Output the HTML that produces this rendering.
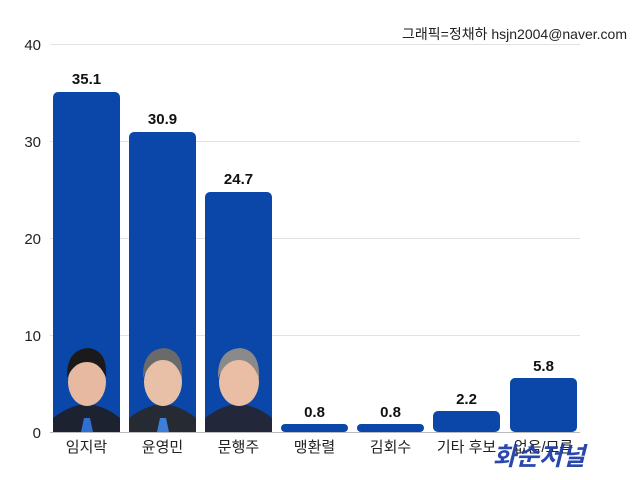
<!DOCTYPE html><html><head><meta charset="utf-8"><style>
body{margin:0;background:#fff;}
svg{display:block;font-family:"Liberation Sans","Noto Sans CJK KR",sans-serif;}
</style></head><body>
<svg width="644" height="480" viewBox="0 0 644 480">
<rect width="644" height="480" fill="#fff"/>
<g stroke="#e2e2e2" stroke-width="1">
<line x1="50" y1="44.5" x2="580" y2="44.5"/><line x1="50" y1="141.5" x2="580" y2="141.5"/>
<line x1="50" y1="238.5" x2="580" y2="238.5"/><line x1="50" y1="335.5" x2="580" y2="335.5"/>
</g>
<line x1="50" y1="432.5" x2="580" y2="432.5" stroke="#bbb"/>
<g font-size="15" fill="#222" text-anchor="end">
<text x="41" y="50">40</text><text x="41" y="147">30</text><text x="41" y="244">20</text><text x="41" y="341">10</text><text x="41" y="438">0</text>
</g>
<text x="627" y="39" font-size="14" fill="#222" text-anchor="end">그래픽=정채하 hsjn2004@naver.com</text>
<g fill="#0a47a9">
<rect x="53" y="92" width="67" height="340" rx="5"/>
<rect x="129" y="132" width="67" height="300" rx="5"/>
<rect x="205" y="192" width="67" height="240" rx="5"/>
<rect x="281" y="424" width="67" height="8" rx="4"/>
<rect x="357" y="424" width="67" height="8" rx="4"/>
<rect x="433" y="411" width="67" height="21" rx="5"/>
<rect x="510" y="378" width="67" height="54" rx="5"/>
</g>
<!-- photo approximations -->
<g>
<path d="M53 432 L53 418 Q70 405 86 404 Q104 405 120 418 L120 432Z" fill="#1c2230"/>
<ellipse cx="87" cy="382" rx="19" ry="24" fill="#e6b9a0"/>
<path d="M67 378 Q66 350 88 348 Q108 350 106 378 Q100 362 87 362 Q74 362 67 378Z" fill="#1a1a1a"/>
<path d="M84 418 L90 418 L93 432 L81 432Z" fill="#2f6fd0"/>
<path d="M129 432 L129 418 Q146 405 162 404 Q180 405 196 418 L196 432Z" fill="#262b33"/>
<ellipse cx="163" cy="382" rx="19" ry="24" fill="#e8c0a8"/>
<path d="M143 378 Q142 350 164 348 Q184 350 182 378 Q176 360 163 360 Q150 360 143 378Z" fill="#6a6a6a"/>
<path d="M160 418 L166 418 L169 432 L157 432Z" fill="#3d7fd8"/>
<path d="M205 432 L205 418 Q222 405 238 404 Q256 405 272 418 L272 432Z" fill="#22283a"/>
<ellipse cx="239" cy="382" rx="20" ry="24" fill="#e9bea4"/>
<path d="M218 378 Q217 350 240 348 Q260 350 259 378 Q252 360 239 360 Q225 360 218 378Z" fill="#8a8a8a"/>
</g>
<g font-size="15" font-weight="bold" fill="#111" text-anchor="middle">
<text x="86.5" y="84">35.1</text><text x="162.5" y="124">30.9</text><text x="238.5" y="184">24.7</text>
<text x="314.5" y="417">0.8</text><text x="390.5" y="417">0.8</text><text x="466.5" y="404">2.2</text><text x="543.5" y="371">5.8</text>
</g>
<g font-size="15" fill="#222" text-anchor="middle">
<text x="86.5" y="452">임지락</text><text x="162.5" y="452">윤영민</text><text x="238.5" y="452">문행주</text>
<text x="314.5" y="452">맹환렬</text><text x="390.5" y="452">김회수</text><text x="466.5" y="452">기타 후보</text><text x="543.5" y="452">없음/모름</text>
</g>
<text x="493" y="465" font-size="25" font-weight="bold" font-style="italic" fill="#1f3fa8" opacity="0.95">화순저널</text>
</svg>
</body></html>
